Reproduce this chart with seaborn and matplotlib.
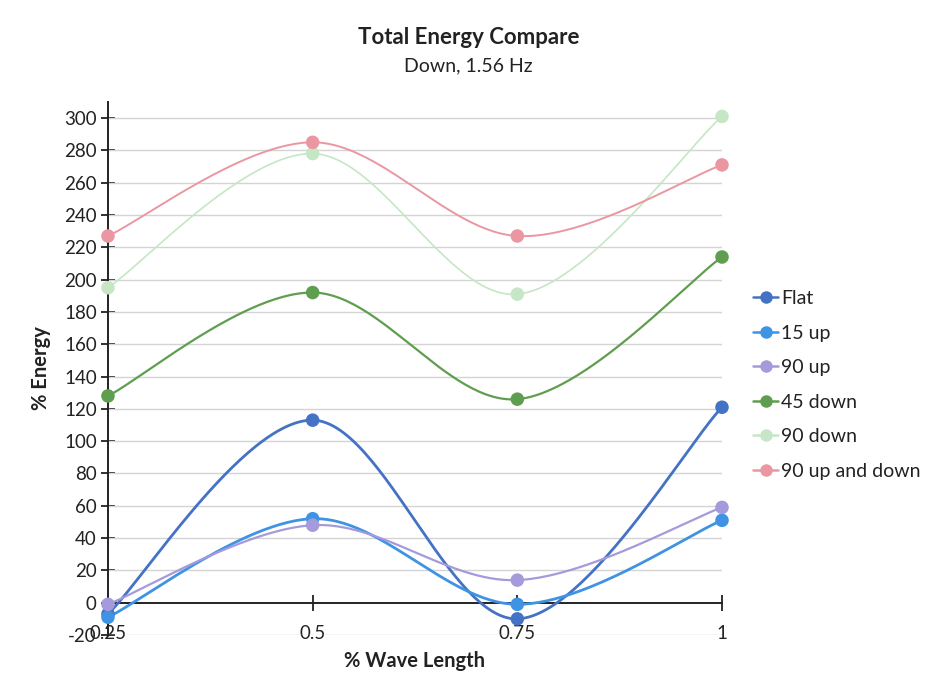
import numpy as np
import pandas as pd
import matplotlib
matplotlib.use("Agg")
import matplotlib.pyplot as plt
import seaborn as sns
from matplotlib.lines import Line2D

x_vals = [0.25, 0.5, 0.75, 1.0]
x_ticklabels = ["0.25", "0.5", "0.75", "1"]
series_names = ["Flat", "15 up", "90 up", "45 down", "90 down", "90 up and down"]
flat = [-7, 113, -10, 121]
up15 = [-9, 52, -1, 51]
up90 = [-1, 48, 14, 59]
down45 = [128, 192, 126, 214]
down90 = [195, 278, 191, 301]
updown90 = [227, 285, 227, 271]
series_values = [flat, up15, up90, down45, down90, updown90]
colors = ["#4472C4", "#3F93E3", "#A59ADB", "#5E9E4E", "#C6E6C6", "#EA97A2"]
line_widths = [2.0, 2.0, 1.6, 1.6, 1.2, 1.4]
y_ticks = list(range(-20, 301, 20))


def excel_smooth(xs, ys, n=60):
    P = np.column_stack([xs, ys]).astype(float)
    m = len(P)
    out = []
    for i in range(m - 1):
        p0 = P[i - 1] if i > 0 else P[i]
        p1 = P[i]
        p2 = P[i + 1]
        p3 = P[i + 2] if i + 2 < m else P[i + 1]
        b1 = p1 + (p2 - p0) / 6.0
        b2 = p2 - (p3 - p1) / 6.0
        t = np.linspace(0, 1, n)[:, None]
        seg = ((1 - t) ** 3) * p1 + 3 * ((1 - t) ** 2) * t * b1 + 3 * (1 - t) * t ** 2 * b2 + t ** 3 * p2
        if i > 0:
            seg = seg[1:]
        out.append(seg)
    return np.vstack(out)


rows_s = []
rows_p = []
for name, vals in zip(series_names, series_values):
    sm = excel_smooth(x_vals, vals)
    for k, (sx, sy) in enumerate(sm):
        rows_s.append({"x": sx, "y": sy, "series": name, "order": k})
    for xv, yv in zip(x_vals, vals):
        rows_p.append({"x": xv, "y": yv, "series": name})
df_s = pd.DataFrame(rows_s)
df_p = pd.DataFrame(rows_p)

sns.set_theme(style="white")
plt.rcParams["font.family"] = ["Lato", "DejaVu Sans"]

fig = plt.figure(figsize=(9.26, 6.84), dpi=100)
ax = fig.add_axes([0.1166, 0.0716, 0.6631, 0.7794])

for name, c, lw in zip(series_names, colors, line_widths):
    d = df_s[df_s["series"] == name]
    sns.lineplot(data=d, x="x", y="y", sort=False, estimator=None, color=c,
                 linewidth=lw, ax=ax, legend=False, zorder=3)
for name, c in zip(series_names, colors):
    d = df_p[df_p["series"] == name]
    sns.scatterplot(data=d, x="x", y="y", color=c, s=95, edgecolor="none",
                    ax=ax, legend=False, zorder=4, clip_on=False)

ax.set_xlim(0.25, 1.0)
ax.set_ylim(-20, 310)
ax.set_yticks(y_ticks)
ax.set_yticklabels([str(v) for v in y_ticks])
ax.set_xticks(x_vals)
ax.set_xticklabels(x_ticklabels)

for v in y_ticks:
    if v != 0:
        ax.axhline(v, color="#D4D4D4", linewidth=1.0, zorder=1)

for s in ["top", "right"]:
    ax.spines[s].set_visible(False)
ax.spines["left"].set_color("#222222")
ax.spines["left"].set_linewidth(1.4)
ax.spines["bottom"].set_position(("data", 0))
ax.spines["bottom"].set_color("#222222")
ax.spines["bottom"].set_linewidth(1.4)
ax.spines["bottom"].set_zorder(2)
ax.tick_params(axis="y", direction="inout", length=10, width=1.3, color="#222222",
               pad=3, left=True, labelsize=13.5, labelcolor="#222222")
ax.tick_params(axis="x", direction="inout", length=12, width=1.3, color="#222222",
               pad=10, bottom=True, labelsize=13.5, labelcolor="#222222")

ax.set_xlabel("% Wave Length", fontsize=14.5, fontweight="bold", color="#222222")
ax.set_ylabel("% Energy", fontsize=14.5, fontweight="bold", color="#222222")
ax.xaxis.set_label_coords(0.5, -0.03)
ax.yaxis.set_label_coords(-0.093, 0.5)

fig.text(0.506, 0.945, "Total Energy Compare", ha="center", va="center",
         fontsize=16, fontweight="bold", color="#222222")
fig.text(0.506, 0.904, "Down, 1.56 Hz", ha="center", va="center",
         fontsize=14, color="#222222")

handles = [Line2D([0], [0], color=c, linewidth=1.8, marker="o", markersize=9,
                  markeredgewidth=0) for c in colors]
leg = fig.legend(handles, series_names, loc="upper left", bbox_to_anchor=(0.805, 0.587),
                 frameon=False, fontsize=14, handlelength=1.3, handletextpad=0.12,
                 labelspacing=0.9, borderaxespad=0)
for t in leg.get_texts():
    t.set_color("#222222")

fig.savefig("out.png", dpi=100, facecolor="white")
